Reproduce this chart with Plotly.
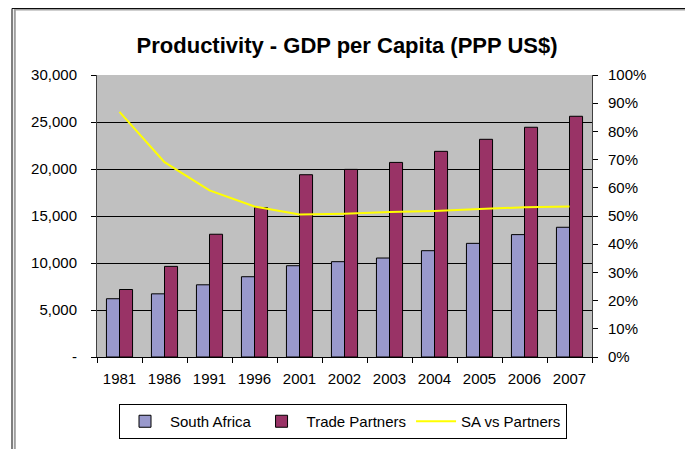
import plotly.graph_objects as go

years = ["1981", "1986", "1991", "1996", "2001", "2002", "2003", "2004", "2005", "2006", "2007"]
south_africa = [6200, 6720, 7680, 8540, 9710, 10140, 10530, 11310, 12090, 13020, 13800]
trade_partners = [7180, 9640, 13060, 15900, 19390, 19960, 20700, 21880, 23160, 24440, 25610]
sa_vs_partners = [0.869, 0.691, 0.591, 0.534, 0.505, 0.508, 0.514, 0.518, 0.525, 0.531, 0.534]

left_ticks = [0, 5000, 10000, 15000, 20000, 25000, 30000]
left_labels = ["-", "5,000", "10,000", "15,000", "20,000", "25,000", "30,000"]

FONT = "Liberation Sans, Arial, sans-serif"

fig = go.Figure()
fig.add_trace(go.Bar(x=years, y=south_africa, name="South Africa",
                     marker=dict(color="#9999CC", line=dict(color="black", width=1))))
fig.add_trace(go.Bar(x=years, y=trade_partners, name="Trade Partners",
                     marker=dict(color="#993366", line=dict(color="black", width=1))))
fig.add_trace(go.Scatter(x=years, y=sa_vs_partners, name="SA vs Partners", yaxis="y2",
                         mode="lines", line=dict(color="#FFFF00", width=2)))

# outer chart frame (Excel style) with a soft shadow on the right
fig.add_shape(type="rect", xref="paper", yref="paper", x0=-0.166, x1=1.2,
              y0=-0.45, y1=1.232, line=dict(color="#A0A0A0", width=2), layer="below")
fig.add_shape(type="rect", xref="paper", yref="paper", x0=-0.1717, x1=1.194,
              y0=-0.4, y1=1.236, line=dict(color="black", width=1), layer="below")

# page body has an 8px margin, so the figure is sized to the visible area
fig.update_layout(
    width=685, height=441,
    margin=dict(l=89, r=101, t=67, b=92, autoexpand=False),
    paper_bgcolor="white", plot_bgcolor="#C0C0C0",
    font=dict(family=FONT, size=15, color="black"),
    title=dict(text="<b>Productivity - GDP per Capita (PPP US$)</b>",
               x=0.495, xanchor="center", y=0.916, yanchor="middle",
               font=dict(size=22, family=FONT, color="black")),
    barmode="group", bargap=0.42, bargroupgap=0.0,
    xaxis=dict(type="category", tickson="boundaries", ticks="outside", ticklen=5,
               tickcolor="black", showline=True, linecolor="black", linewidth=1,
               showgrid=False, ticklabelstandoff=8),
    yaxis=dict(range=[0, 30000], tickvals=left_ticks, ticktext=left_labels,
               ticks="outside", ticklen=5, tickcolor="black", ticklabelstandoff=11,
               showline=True, linecolor="#404040", linewidth=1,
               showgrid=True, gridcolor="black", gridwidth=1, zeroline=False),
    yaxis2=dict(range=[0, 1], dtick=0.1, tickformat=".0%", overlaying="y", side="right",
                ticks="outside", ticklen=5, tickcolor="black", ticklabelstandoff=7,
                showline=True, linecolor="#404040", linewidth=1,
                showgrid=False, zeroline=False),
    legend=dict(orientation="h", x=0.497, xanchor="center", y=-0.1667, yanchor="top",
                bordercolor="black", borderwidth=1, bgcolor="white",
                font=dict(size=15, family=FONT), itemwidth=40, tracegroupgap=0),
)

fig.write_html("out.html")
